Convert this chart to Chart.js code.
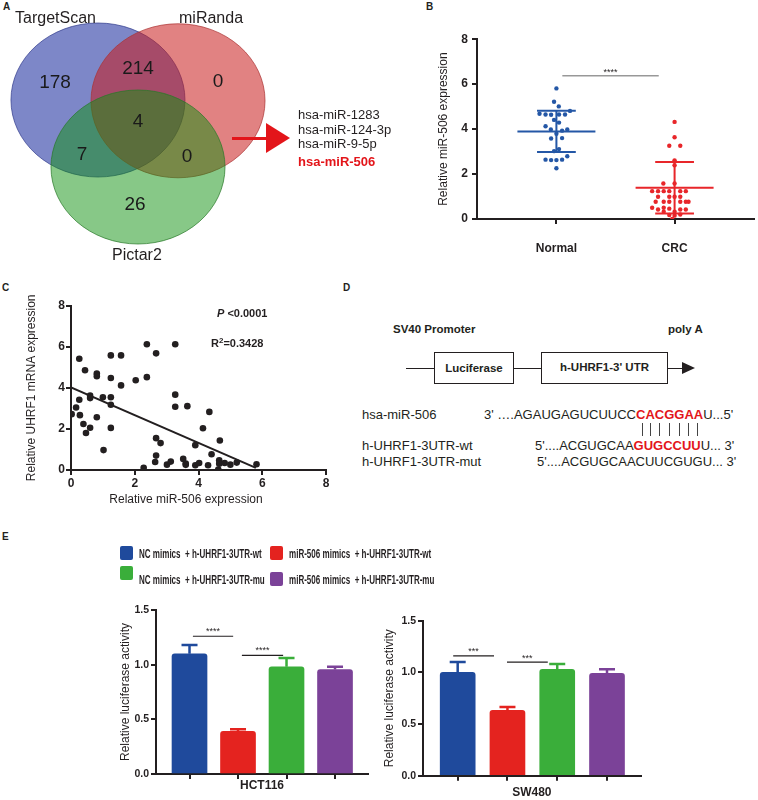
<!DOCTYPE html>
<html>
<head>
<meta charset="utf-8">
<title>miR-506 targets UHRF1</title>
<script src="https://cdn.jsdelivr.net/npm/chart.js@4.4.1/dist/chart.umd.min.js"></script>
<style>
  body { margin: 0; width: 758px; height: 800px; position: relative; overflow: hidden; background: #fff;
         font-family: "Liberation Sans", Arial, sans-serif; color: #231f20; }
  canvas { position: absolute; }
  .t { position: absolute; white-space: nowrap; line-height: 1; transform: translateY(-50%); z-index: 2; }
  .panel { position: absolute; font-weight: bold; font-size: 10px; line-height: 1; }
  .b { font-weight: bold; }
  .red { color: #e3151a; }
  .seg { position: absolute; background: #231f20; height: 1.5px; }
  .tick { position: absolute; background: #444; width: 1px; height: 13px; top: 423px; }
  .box { position: absolute; border: 1.5px solid #231f20; box-sizing: border-box; height: 32px; top: 352px;
         display: flex; align-items: center; justify-content: center; font-weight: bold; font-size: 11.5px; }
  .sw { position: absolute; width: 13px; height: 14px; border-radius: 2px; }
  .lg { font-weight: bold; font-size: 12px; transform: translateY(-50%) scaleX(0.67); transform-origin: left center; }
</style>
</head>
<body>
<!-- panel letters -->
<div class="panel" style="left:3px;top:2px">A</div>
<div class="panel" style="left:426px;top:2px">B</div>
<div class="panel" style="left:2px;top:283px">C</div>
<div class="panel" style="left:343px;top:283px">D</div>
<div class="panel" style="left:2px;top:532px">E</div>

<!-- A: Venn -->
<canvas id="venn" width="300" height="234" style="left:0;top:20px"></canvas>
<div class="t" id="setA" style="left:15px;top:18px;font-size:16px"></div>
<div class="t" id="setB" style="left:179px;top:18px;font-size:16px"></div>
<div class="t" id="setC" style="left:112px;top:255px;font-size:16px"></div>
<div style="position:absolute;left:232px;top:136.5px;width:38px;height:3px;background:#e3151a"></div>
<div style="position:absolute;left:266px;top:123px;width:0;height:0;border-top:15px solid transparent;border-bottom:15px solid transparent;border-left:24px solid #e3151a"></div>
<div id="mirList"></div>

<!-- B -->
<canvas id="chartB" width="338" height="250" style="left:420px;top:28px"></canvas>

<!-- C -->
<canvas id="chartC" width="345" height="215" style="left:0;top:295px"></canvas>
<div class="t b" style="left:217px;top:313px;font-size:11px"><i>P</i> &lt;0.0001</div>
<div class="t b" style="left:211px;top:343px;font-size:11px">R<span style="font-size:8px;position:relative;top:-4px">2</span>=0.3428</div>
<div class="t" style="left:186px;top:499px;font-size:12px;transform:translate(-50%,-50%)">Relative miR-506 expression</div>

<!-- D: reporter construct -->
<div class="t b" style="left:393px;top:330px;font-size:11.5px">SV40 Promoter</div>
<div class="t b" style="left:668px;top:330px;font-size:11.5px">poly A</div>
<div class="seg" style="left:406px;top:367.5px;width:28px"></div>
<div class="box" style="left:434px;width:80px">Luciferase</div>
<div class="seg" style="left:514px;top:367.5px;width:27px"></div>
<div class="box" style="left:541px;width:127px;padding-bottom:3px">h-UHRF1-3' UTR</div>
<div class="seg" style="left:668px;top:367.5px;width:16px"></div>
<div style="position:absolute;left:682px;top:362px;width:0;height:0;border-top:6px solid transparent;border-bottom:6px solid transparent;border-left:13px solid #231f20"></div>
<div class="t" style="left:362px;top:414px;font-size:13px">hsa-miR-506</div>
<div class="t" style="left:484px;top:414px;font-size:13px">3' &#8230;.AGAUGAGUCUUCC<span class="b red">CACGGAA</span>U...5'</div>
<div class="tick" style="left:642px"></div><div class="tick" style="left:650px"></div><div class="tick" style="left:659px"></div>
<div class="tick" style="left:669px"></div><div class="tick" style="left:679px"></div><div class="tick" style="left:688px"></div>
<div class="tick" style="left:697px"></div>
<div class="t" style="left:362px;top:445px;font-size:13px">h-UHRF1-3UTR-wt</div>
<div class="t" style="left:535px;top:445px;font-size:13px">5'....ACGUGCAA<span class="b red">GUGCCUU</span>U... 3'</div>
<div class="t" style="left:362px;top:461px;font-size:13px">h-UHRF1-3UTR-mut</div>
<div class="t" style="left:537px;top:461px;font-size:13px">5'....ACGUGCAACUUCGUGU... 3'</div>

<!-- E -->
<div id="legendE"></div>
<canvas id="chartE1" width="285" height="202" style="left:95px;top:598px"></canvas>
<canvas id="chartE2" width="280" height="192" style="left:370px;top:608px"></canvas>

<script>
// ---- A: Venn of predicted miRNAs
const vennSets = ['TargetScan', 'miRanda', 'Pictar2'];
const vennRegions = ['TargetScan', 'TargetScan+miRanda', 'miRanda', 'all', 'TargetScan+Pictar2', 'miRanda+Pictar2', 'Pictar2'];
const vennCounts = [178, 214, 0, 4, 7, 0, 26];
const sharedMirs = ['hsa-miR-1283', 'hsa-miR-124-3p', 'hsa-miR-9-5p', 'hsa-miR-506'];

// ---- B: miR-506 expression, dot plot
const groupsB = ['Normal', 'CRC'];
const normalX = [0, -0.02, 0.02, 0.115, -0.143, -0.092, -0.045, 0.022, 0.073, -0.02, 0.022, -0.092,
                 -0.047, 0.048, 0.092, 0, -0.045, 0.048, 0.022, -0.02, -0.092, -0.045, 0, 0.048, 0.092, 0];
const normalY = [5.81, 5.22, 5.01, 4.81, 4.68, 4.65, 4.64, 4.65, 4.65, 4.41, 4.29, 4.13,
                 3.98, 3.93, 3.98, 3.79, 3.58, 3.6, 3.11, 3.02, 2.64, 2.62, 2.62, 2.64, 2.79, 2.26];
const crcX = [0, 0, -0.045, 0.048, 0, 0, -0.095, 0, -0.19, -0.14, -0.092, -0.045, 0.048, 0.095,
              -0.14, -0.045, 0, 0.048, -0.16, -0.092, -0.045, 0.048, 0.095, 0.118,
              -0.19, -0.14, -0.092, -0.045, 0.048, 0.095, -0.092, 0, -0.045, 0, 0.048, -0.02];
const crcY = [4.32, 3.64, 3.26, 3.26, 2.61, 2.39, 1.58, 1.58, 1.24, 1.24, 1.24, 1.24, 1.24, 1.24,
              0.99, 0.99, 0.99, 0.99, 0.77, 0.77, 0.77, 0.77, 0.77, 0.77,
              0.5, 0.42, 0.5, 0.46, 0.42, 0.42, 0.32, 0.32, 0.18, 0.15, 0.2, 0.0];
const meanB = [3.89, 1.39];
const sdUpB = [4.82, 2.54];
const sdLoB = [2.98, 0.24];

// ---- C: correlation miR-506 vs UHRF1
const mirC = [0.02, 0.16, 0.26, 0.26, 0.28, 0.39, 0.44, 0.47, 0.6, 0.6, 0.6, 0.81, 0.81, 0.81, 1.0, 1.02,
              1.25, 1.25, 1.25, 1.25, 1.25, 1.57, 1.57, 2.03, 2.28, 2.38, 2.38, 2.67, 2.67, 2.81, 2.67, 2.64,
              3.01, 3.13, 3.27, 3.27, 3.27, 3.65, 3.52, 3.6, 3.6, 3.9, 3.9, 4.02, 4.14, 4.3, 4.34, 4.41,
              4.65, 4.67, 4.65, 4.62, 4.82, 5.0, 5.2, 5.82];
const uhrf1C = [2.72, 3.04, 5.42, 3.42, 2.67, 2.24, 4.86, 1.8, 2.06, 3.62, 3.5, 4.7, 4.57, 2.57, 3.54, 0.97,
                5.58, 4.48, 3.54, 3.18, 2.05, 5.58, 4.12, 4.37, 0.11, 6.12, 4.52, 5.68, 1.55, 1.31, 0.7, 0.39,
                0.26, 0.41, 6.12, 3.67, 3.08, 3.11, 0.54, 0.31, 0.25, 1.21, 0.23, 0.34, 2.03, 0.23, 2.83, 0.77,
                0.47, 1.44, 0.31, 0.02, 0.34, 0.26, 0.36, 0.28];
const fitX = [0, 5.8];
const fitY = [4.02, 0.1];

// ---- E: luciferase reporter
const groupsE = ['NC mimics  + h-UHRF1-3UTR-wt', 'miR-506 mimics  + h-UHRF1-3UTR-wt',
                 'NC mimics  + h-UHRF1-3UTR-mu', 'miR-506 mimics  + h-UHRF1-3UTR-mu'];
const hct116 = [1.10, 0.39, 0.98, 0.955];
const hct116Err = [0.08, 0.02, 0.08, 0.025];
const sw480 = [1.0, 0.632, 1.03, 0.99];
const sw480Err = [0.10, 0.033, 0.05, 0.04];

const ink = '#231f20';
const barColors = ['#1f4a9c', '#e4231f', '#3aae3a', '#7b4298'];

Chart.defaults.font.family = '"Liberation Sans", Arial, sans-serif';
Chart.defaults.color = ink;
Chart.defaults.animation = false;
Chart.defaults.responsive = false;
Chart.defaults.events = [];
Chart.defaults.plugins.legend.display = false;
Chart.defaults.plugins.tooltip.enabled = false;

// html labels for A and the E legend
document.getElementById('setA').textContent = vennSets[0];
document.getElementById('setB').textContent = vennSets[1];
document.getElementById('setC').textContent = vennSets[2];
const mirTops = [114, 128.5, 143, 160.5];
document.getElementById('mirList').innerHTML = sharedMirs.map((m, i) =>
  `<div class="t${i === 3 ? ' b red' : ''}" style="left:298px;top:${mirTops[i]}px;font-size:13px">${m}</div>`).join('');

const legendSpots = [[120, 546, 139, 554], [270, 546, 289, 554], [120, 566, 139, 580], [270, 572, 289, 580]];
document.getElementById('legendE').innerHTML = groupsE.map((g, i) => {
  const [sx, sy, tx, ty] = legendSpots[i];
  return `<div class="sw" style="left:${sx}px;top:${sy}px;background:${barColors[i]}"></div>` +
         `<div class="t lg" style="left:${tx}px;top:${ty}px">${g.replace('  ', '&nbsp; ')}</div>`;
}).join('');

const vennLayout = {
  cx: [0, 0.92, 0.46], cy: [0, -0.01, -0.87], r: 1,
  fill: ['rgba(38,55,163,0.6)', 'rgba(200,28,28,0.55)', 'rgba(15,145,15,0.5)'],
  stroke: ['rgba(50,60,140,0.7)', 'rgba(170,50,50,0.7)', 'rgba(40,120,40,0.7)'],
  countAt: [[-0.494, 0.221], [0.46, 0.403], [1.379, 0.234], [0.46, -0.286], [-0.184, -0.714], [1.023, -0.74], [0.425, -1.364]]
};

const vennPlugin = {
  id: 'venn',
  afterDraw(chart) {
    const { ctx, scales: { x, y } } = chart;
    vennSets.forEach((name, i) => {
      const px = x.getPixelForValue(vennLayout.cx[i]);
      const py = y.getPixelForValue(vennLayout.cy[i]);
      const rx = x.getPixelForValue(vennLayout.cx[i] + vennLayout.r) - px;
      const ry = py - y.getPixelForValue(vennLayout.cy[i] + vennLayout.r);
      ctx.beginPath();
      ctx.ellipse(px, py, rx, ry, 0, 0, Math.PI * 2);
      ctx.fillStyle = vennLayout.fill[i];
      ctx.fill();
      ctx.strokeStyle = vennLayout.stroke[i];
      ctx.lineWidth = 1;
      ctx.stroke();
    });
    ctx.fillStyle = '#1a1a1a';
    ctx.font = '19px "Liberation Sans", Arial, sans-serif';
    ctx.textAlign = 'center';
    ctx.textBaseline = 'middle';
    vennCounts.forEach((n, i) => {
      const [vx, vy] = vennLayout.countAt[i];
      ctx.fillText(String(n), x.getPixelForValue(vx), y.getPixelForValue(vy));
    });
  }
};

new Chart(document.getElementById('venn'), {
  type: 'scatter',
  data: { datasets: [] },
  options: {
    layout: { padding: 0 },
    scales: {
      x: { type: 'linear', display: false, min: -1.126, max: 2.322 },
      y: { type: 'linear', display: false, min: -2.0, max: 1.039 }
    }
  },
  plugins: [vennPlugin]
});

// significance bar with stars
const sigLines = {
  id: 'sigLines',
  afterDatasetsDraw(chart, args, opts) {
    const { ctx, scales: { x, y } } = chart;
    opts.items.forEach(s => {
      const x1 = x.getPixelForValue(s.from), x2 = x.getPixelForValue(s.to), py = y.getPixelForValue(s.y);
      ctx.save();
      ctx.strokeStyle = opts.color;
      ctx.lineWidth = opts.width;
      ctx.beginPath();
      ctx.moveTo(x1, py);
      ctx.lineTo(x2, py);
      ctx.stroke();
      ctx.fillStyle = ink;
      ctx.font = opts.font;
      ctx.textAlign = 'center';
      ctx.textBaseline = 'alphabetic';
      ctx.fillText(s.label, (x1 + x2) / 2, py - opts.gap);
      ctx.restore();
    });
  }
};

// mean +/- SD for the dot plot
const meanSd = {
  id: 'meanSd',
  afterDatasetsDraw(chart) {
    const { ctx, scales: { x, y } } = chart;
    groupsB.forEach((g, i) => {
      const c = i + 1;
      ctx.save();
      ctx.strokeStyle = i === 0 ? '#2457a6' : '#e8262a';
      ctx.lineWidth = 2;
      ctx.beginPath();
      ctx.moveTo(x.getPixelForValue(c - 0.33), y.getPixelForValue(meanB[i]));
      ctx.lineTo(x.getPixelForValue(c + 0.33), y.getPixelForValue(meanB[i]));
      [sdUpB[i], sdLoB[i]].forEach(v => {
        ctx.moveTo(x.getPixelForValue(c - 0.164), y.getPixelForValue(v));
        ctx.lineTo(x.getPixelForValue(c + 0.164), y.getPixelForValue(v));
      });
      ctx.moveTo(x.getPixelForValue(c), y.getPixelForValue(sdUpB[i]));
      ctx.lineTo(x.getPixelForValue(c), y.getPixelForValue(sdLoB[i]));
      ctx.stroke();
      ctx.restore();
    });
  }
};

// error bars above the bars
const errorBars = {
  id: 'errorBars',
  afterDatasetsDraw(chart, args, opts) {
    const { ctx } = chart;
    const y = chart.scales.y;
    chart.getDatasetMeta(0).data.forEach((bar, i) => {
      const top = y.getPixelForValue(opts.values[i] + opts.errors[i]);
      ctx.save();
      ctx.strokeStyle = barColors[i];
      ctx.lineWidth = 2.5;
      ctx.beginPath();
      ctx.moveTo(bar.x, bar.y);
      ctx.lineTo(bar.x, top);
      ctx.moveTo(bar.x - 8, top);
      ctx.lineTo(bar.x + 8, top);
      ctx.stroke();
      ctx.restore();
    });
  }
};

const axisLine = { color: ink, width: 2 };
const tickGrid = { drawOnChartArea: false, tickLength: 5, color: ink, lineWidth: 2 };

// ---- B
new Chart(document.getElementById('chartB'), {
  type: 'scatter',
  data: {
    datasets: [
      { data: normalY.map((v, i) => ({ x: 1 + normalX[i], y: v })), backgroundColor: '#2457a6', pointRadius: 2.2, borderWidth: 0 },
      { data: crcY.map((v, i) => ({ x: 2 + crcX[i], y: v })), backgroundColor: '#e8262a', pointRadius: 2.2, borderWidth: 0 }
    ]
  },
  options: {
    layout: { padding: { left: 12, top: 10, right: 2, bottom: 0 } },
    scales: {
      x: {
        type: 'linear', min: 0.328, max: 2.672,
        afterBuildTicks: s => { s.ticks = groupsB.map((g, i) => ({ value: i + 1 })); },
        afterFit: s => { s.height = 59; },
        ticks: { callback: v => groupsB[v - 1] || '', font: { size: 12, weight: 'bold' }, padding: 17, maxRotation: 0, autoSkip: false },
        grid: tickGrid, border: axisLine
      },
      y: {
        min: 0, max: 8,
        afterFit: s => { s.width = 45; },
        ticks: { stepSize: 2, font: { size: 12, weight: 'bold' }, padding: 4 },
        grid: tickGrid, border: axisLine,
        title: { display: true, text: 'Relative miR-506 expression', font: { size: 12 }, padding: { top: 4, bottom: 0 } }
      }
    },
    plugins: {
      sigLines: { items: [{ from: 1.05, to: 1.866, y: 6.37, label: '****' }], color: '#666', width: 1, font: '9px "Liberation Sans", Arial', gap: 1 }
    }
  },
  plugins: [meanSd, sigLines]
});

// ---- C
new Chart(document.getElementById('chartC'), {
  type: 'scatter',
  data: {
    datasets: [
      { data: mirC.map((v, i) => ({ x: v, y: uhrf1C[i] })), backgroundColor: ink, pointRadius: 3.3, borderWidth: 0 },
      { data: fitX.map((v, i) => ({ x: v, y: fitY[i] })), showLine: true, borderColor: ink, borderWidth: 2, pointRadius: 0 }
    ]
  },
  options: {
    layout: { padding: { left: 20, top: 10.7, right: 19, bottom: 0 } },
    scales: {
      x: {
        min: 0, max: 8,
        afterFit: s => { s.height = 40; },
        ticks: { stepSize: 2, font: { size: 12, weight: 'bold' }, padding: 1, maxRotation: 0 },
        grid: tickGrid, border: axisLine
      },
      y: {
        min: 0, max: 8,
        afterFit: s => { s.width = 51; },
        ticks: { stepSize: 2, font: { size: 12, weight: 'bold' }, padding: 1 },
        grid: tickGrid, border: axisLine,
        title: { display: true, text: 'Relative UHRF1 mRNA expression', font: { size: 12 }, padding: { top: 4, bottom: 0 } }
      }
    }
  }
});

// ---- E
function luciferaseChart(id, values, errors, cell, xMin, xMax, pad, yWidth, xHeight, titlePad, sig, starGap) {
  return new Chart(document.getElementById(id), {
    type: 'bar',
    data: {
      datasets: [{
        data: values.map((v, i) => ({ x: i + 1, y: v })),
        backgroundColor: barColors, barThickness: 35,
        borderRadius: { topLeft: 3, topRight: 3 }, borderSkipped: 'bottom'
      }]
    },
    options: {
      layout: { padding: pad },
      scales: {
        x: {
          type: 'linear', min: xMin, max: xMax, offset: false,
          afterBuildTicks: s => { s.ticks = groupsE.map((g, i) => ({ value: i + 1 })); },
          afterFit: s => { s.height = xHeight; },
          ticks: { callback: () => '', padding: 0 },
          grid: { ...tickGrid, offset: false }, border: axisLine,
          title: { display: true, text: cell, font: { size: 12, weight: 'bold' }, padding: { top: 0, bottom: titlePad } }
        },
        y: {
          min: 0, max: 1.5,
          afterFit: s => { s.width = yWidth; },
          ticks: { stepSize: 0.5, callback: v => v.toFixed(1), font: { size: 10.5, weight: 'bold' }, padding: 2 },
          grid: tickGrid, border: axisLine,
          title: { display: true, text: 'Relative luciferase activity', font: { size: 12 }, padding: { top: 4, bottom: 0 } }
        }
      },
      plugins: {
        errorBars: { values, errors },
        sigLines: { items: sig, color: ink, width: 1.2, font: '9px "Liberation Sans", Arial', gap: starGap }
      }
    },
    plugins: [errorBars, sigLines]
  });
}

luciferaseChart('chartE1', hct116, hct116Err, 'HCT116', 0.309, 4.68,
  { left: 19, top: 12, right: 12, bottom: 0 }, 42, 26, 7,
  [{ from: 1.07, to: 1.9, y: 1.26, label: '****' }, { from: 2.08, to: 2.93, y: 1.085, label: '****' }], 2);

luciferaseChart('chartE2', sw480, sw480Err, 'SW480', 0.303, 4.677,
  { left: 8.8, top: 12.7, right: 9.3, bottom: 0 }, 44.2, 24.3, 0,
  [{ from: 0.91, to: 1.73, y: 1.16, label: '***' }, { from: 1.99, to: 2.81, y: 1.10, label: '***' }], 1.5);
</script>
</body>
</html>
